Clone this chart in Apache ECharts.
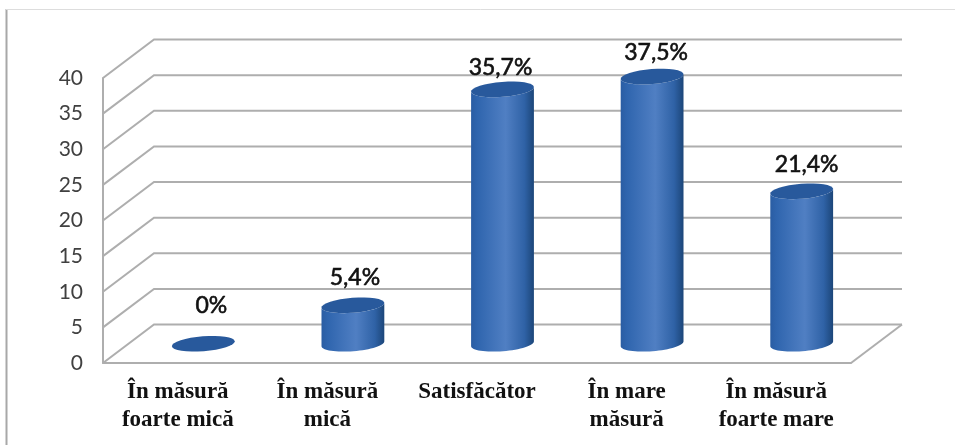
<!DOCTYPE html>
<html>
<head>
<meta charset="utf-8">
<style>
  html, body { margin: 0; padding: 0; background: #fff; }
  #main { width: 955px; height: 445px; }
</style>
<script src="https://cdn.jsdelivr.net/npm/echarts@6/dist/echarts.min.js"></script>
</head>
<body>
<div id="main"></div>
<script>
const categories = ["În măsură\nfoarte mică", "În măsură\nmică", "Satisfăcător", "În mare\nmăsură", "În măsură\nfoarte mare"];
const values = [0, 5.4, 35.7, 37.5, 21.4];
const yTicks = [0, 5, 10, 15, 20, 25, 30, 35, 40];

// fake 3d: how far the back wall sits from the front plane, in px
const depthX = 51, depthY = -38.5;
const radiusX = 31.5, radiusY = 7.5, tilt = 4.5 * Math.PI / 180;
// the labels were placed by hand in the original, so nudge each one [dx, dy] from the cylinder top
const labelNudge = [[8, -38], [2, -28], [-2, -22], [4, -24], [5, -27]];
const gridColor = "#aeaeae";

// half an ellipse, tilted so the right end sits higher
function arc(cx, cy, from, to) {
  let pts = [];
  for (let i = 0; i <= 32; i++) {
    let t = from + (to - from) * i / 32;
    pts.push([
      cx + radiusX * Math.cos(t) * Math.cos(tilt) + radiusY * Math.sin(t) * Math.sin(tilt),
      cy - radiusX * Math.cos(t) * Math.sin(tilt) + radiusY * Math.sin(t) * Math.cos(tilt)
    ]);
  }
  return pts;
}

function renderWall(params, api) {
  let v = api.value(1);
  let left = params.coordSys.x;
  let right = left + params.coordSys.width;
  let y = api.coord([0, v])[1];
  let lineStyle = { stroke: gridColor, lineWidth: 2, fill: null };
  let children = [{
    type: "polyline",
    shape: { points: [[left, y], [left + depthX, y + depthY], [right + depthX, y + depthY]] },
    style: lineStyle
  }];
  if (v === 0) {
    children.push({
      type: "line",
      shape: { x1: right, y1: y, x2: right + depthX, y2: y + depthY },
      style: lineStyle
    });
  }
  return { type: "group", children: children };
}

function renderCylinder(params, api) {
  let i = api.value(0), v = api.value(1);
  let top = api.coord([i, v]), base = api.coord([i, 0]);
  let cx = top[0] + depthX / 2;
  let topY = top[1] + depthY / 2, baseY = base[1] + depthY / 2;
  let nudge = labelNudge[i];
  let children = [];
  if (v > 0) {
    children.push({
      type: "polygon",
      shape: { points: arc(cx, baseY, 0, Math.PI).concat(arc(cx, topY, Math.PI, 0)) },
      style: {
        fill: new echarts.graphic.LinearGradient(0, 0, 1, 0, [
          { offset: 0, color: "#2a5da3" },
          { offset: 0.1, color: "#2f65ae" },
          { offset: 0.55, color: "#507fc3" },
          { offset: 0.85, color: "#2f62a6" },
          { offset: 1, color: "#1c4679" }
        ])
      }
    });
  }
  children.push({
    type: "polygon",
    shape: { points: arc(cx, topY, 0, 2 * Math.PI) },
    style: { fill: "#28599c" }
  });
  children.push({
    type: "text",
    style: {
      text: String(v).replace(".", ",") + "%",
      x: cx + nudge[0],
      y: topY + nudge[1],
      align: "center",
      verticalAlign: "middle",
      font: "23px Lato",
      fill: "#111",
      stroke: "#111",
      lineWidth: 0.6
    }
  });
  return { type: "group", children: children };
}

let chart = echarts.init(document.getElementById("main"), null, { renderer: "canvas" });
chart.setOption({
  animation: false,
  backgroundColor: "#fff",
  grid: { left: 103, right: 104, top: 78, bottom: 82 },
  graphic: [
    { type: "line", shape: { x1: 6.5, y1: 9, x2: 6.5, y2: 445 }, style: { stroke: "#a8a8a8", lineWidth: 2 } },
    { type: "line", shape: { x1: 6, y1: 9.5, x2: 955, y2: 9.5 }, style: { stroke: "#dddddd", lineWidth: 1 } }
  ],
  xAxis: {
    type: "category",
    data: categories,
    axisTick: { show: false },
    axisLine: { lineStyle: { color: gridColor, width: 2 } },
    axisLabel: {
      interval: 0,
      margin: 15,
      lineHeight: 28,
      fontFamily: "Liberation Serif",
      fontWeight: "bold",
      fontSize: 23,
      color: "#111"
    }
  },
  yAxis: {
    type: "value",
    min: 0,
    max: 40,
    interval: 5,
    data: yTicks,
    splitLine: { show: false },
    axisTick: { show: false },
    axisLine: { show: true, lineStyle: { color: gridColor, width: 2 } },
    axisLabel: { margin: 20, padding: [3, 0, 0, 0], fontFamily: "Lato", fontSize: 21, color: "#404040" }
  },
  series: [
    {
      type: "custom",
      silent: true,
      renderItem: renderWall,
      data: yTicks.map(v => [0, v]),
      z: 1
    },
    {
      type: "custom",
      silent: true,
      renderItem: renderCylinder,
      data: values.map((v, i) => [i, v]),
      z: 3
    }
  ]
});
</script>
</body>
</html>
